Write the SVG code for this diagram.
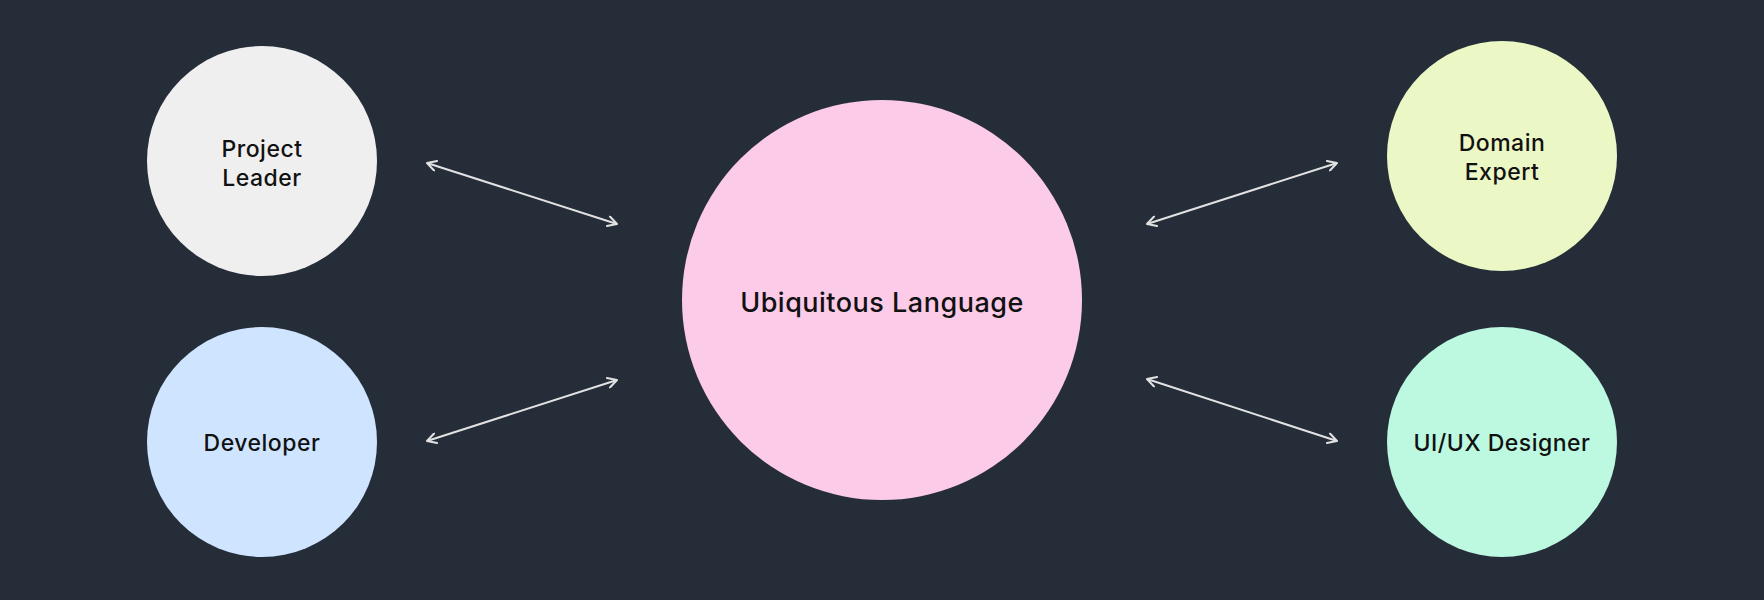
<svg xmlns="http://www.w3.org/2000/svg" width="1764" height="600" viewBox="0 0 1764 600">
<style>
.lbl{font-family:Inter,"Noto Sans",sans-serif;font-size:23px;font-weight:500;letter-spacing:0.5px;fill:#111111;text-anchor:middle}
.big{font-size:27px}
.conn{stroke:#e2e2e2;stroke-width:2;fill:none;marker-start:url(#ah);marker-end:url(#ah)}
</style>
<defs>
<marker id="ah" viewBox="0 0 12 12" refX="11" refY="6" markerWidth="12" markerHeight="12" markerUnits="userSpaceOnUse" orient="auto-start-reverse">
<path d="M2,1 L11,6 L2,11" fill="none" stroke="#e2e2e2" stroke-width="2" stroke-linecap="round" stroke-linejoin="round"/>
</marker>
</defs>
<rect width="1764" height="600" fill="#252d39"/>
<g id="connectors">
<line class="conn" x1="427" y1="163" x2="617" y2="224"/>
<line class="conn" x1="427" y1="441" x2="617" y2="380"/>
<line class="conn" x1="1147" y1="224" x2="1337" y2="163"/>
<line class="conn" x1="1147" y1="379" x2="1337" y2="441"/>
</g>
<g id="ubiquitous-language">
<circle cx="882" cy="300" r="200" fill="#fbcbe8"/>
<text class="lbl big" x="882" y="312">Ubiquitous Language</text>
</g>
<g id="project-leader">
<circle cx="262" cy="161" r="115" fill="#efefef"/>
<text class="lbl" x="262" y="157">Project</text>
<text class="lbl" x="262" y="186">Leader</text>
</g>
<g id="developer">
<circle cx="262" cy="442" r="115" fill="#cfe5ff"/>
<text class="lbl" x="262" y="451">Developer</text>
</g>
<g id="domain-expert">
<circle cx="1502" cy="156" r="115" fill="#ebf7c4"/>
<text class="lbl" x="1502" y="151">Domain</text>
<text class="lbl" x="1502" y="180">Expert</text>
</g>
<g id="uiux-designer">
<circle cx="1502" cy="442" r="115" fill="#bdf8e1"/>
<text class="lbl" x="1502" y="451">UI/UX Designer</text>
</g>
</svg>
